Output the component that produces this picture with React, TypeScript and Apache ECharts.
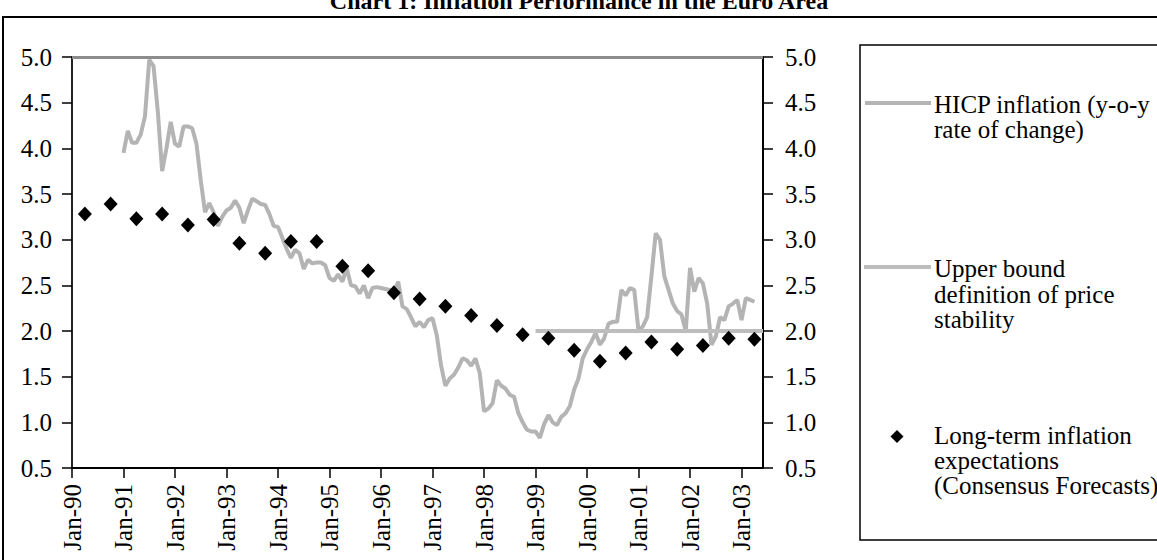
import React, { useEffect, useRef } from "react";
import * as echarts from "echarts";

const monthNames = ["Jan", "Feb", "Mar", "Apr", "May", "Jun", "Jul", "Aug", "Sep", "Oct", "Nov", "Dec"];
const yearLabels = ["90", "91", "92", "93", "94", "95", "96", "97", "98", "99", "00", "01", "02", "03"];
const lastMonthOfLastYear = 6; // axis runs to Jun-03

const categories: string[] = [];
yearLabels.forEach((y, yi) => {
  const n = yi === yearLabels.length - 1 ? lastMonthOfLastYear : 12;
  for (let m = 0; m < n; m++) categories.push(`${monthNames[m]}-${y}`);
});

// HICP inflation, y-o-y, monthly from Jan-91 to Apr-03
const hicpStart = "Jan-91";
const hicpValues = [
  3.95, 4.19, 4.06, 4.06, 4.15, 4.35, 4.97, 4.9, 4.4, 3.75, 4.0, 4.29,
  4.05, 4.02, 4.24, 4.24, 4.22, 4.05, 3.65, 3.3, 3.4, 3.3, 3.15, 3.25,
  3.32, 3.35, 3.43, 3.35, 3.18, 3.32, 3.45, 3.42, 3.39, 3.38, 3.28, 3.15,
  3.14, 3.02, 2.9, 2.8, 2.89, 2.85, 2.68, 2.78, 2.74, 2.75, 2.75, 2.72,
  2.58, 2.55, 2.62, 2.54, 2.69, 2.5, 2.49, 2.41, 2.5, 2.36, 2.47, 2.48,
  2.47, 2.46, 2.45, 2.43, 2.54, 2.27, 2.24, 2.15, 2.05, 2.1, 2.04, 2.12,
  2.14, 1.95, 1.62, 1.4, 1.48, 1.52, 1.6, 1.7, 1.68, 1.62, 1.7, 1.54,
  1.12, 1.15, 1.21, 1.46, 1.4, 1.37, 1.3, 1.28, 1.1, 1.0, 0.92, 0.9,
  0.9, 0.83, 0.98, 1.08, 1.0, 0.97, 1.06, 1.1, 1.18, 1.36, 1.48, 1.7,
  1.8, 1.88, 1.98, 1.85, 1.92, 2.08, 2.1, 2.1, 2.45, 2.39, 2.47, 2.45,
  2.0, 2.05, 2.15, 2.6, 3.07, 3.0, 2.6, 2.45, 2.3, 2.22, 2.18, 2.0,
  2.69, 2.43, 2.58, 2.52, 2.3, 1.85, 1.94, 2.15, 2.12, 2.27, 2.3, 2.34,
  2.12, 2.36, 2.34, 2.32,
];

// Upper bound of price stability definition
const upperBoundDates = ["Jan-99", "Jun-03"];
const upperBoundValue = 2.0;

// Long-term inflation expectations (Consensus Forecasts), April & October surveys
const consensusDates = [
  "Apr-90", "Oct-90", "Apr-91", "Oct-91", "Apr-92", "Oct-92", "Apr-93", "Oct-93", "Apr-94", "Oct-94",
  "Apr-95", "Oct-95", "Apr-96", "Oct-96", "Apr-97", "Oct-97", "Apr-98", "Oct-98", "Apr-99", "Oct-99",
  "Apr-00", "Oct-00", "Apr-01", "Oct-01", "Apr-02", "Oct-02", "Apr-03",
];
const consensusValues = [
  3.28, 3.39, 3.23, 3.28, 3.16, 3.22, 2.96, 2.85, 2.98, 2.98,
  2.71, 2.66, 2.42, 2.35, 2.27, 2.17, 2.06, 1.96, 1.92, 1.79,
  1.67, 1.76, 1.88, 1.8, 1.84, 1.92, 1.91,
];

const yMin = 0.5;
const yMax = 5.0;
const yStep = 0.5;

const seriesNames = {
  hicp: "HICP inflation (y-o-y rate of change)",
  bound: "Upper bound definition of price stability",
  cons: "Long-term inflation expectations (Consensus Forecasts)",
};

const FONT = "'Liberation Serif', 'Times New Roman', serif";
const GRAY = "#b4b4b4";

export default function App() {
  const ref = useRef<HTMLDivElement>(null);

  useEffect(() => {
    document.body.style.margin = "0";
    if (!ref.current) return;
    const chart = echarts.init(ref.current, undefined, { renderer: "svg" });

    const startIdx = categories.indexOf(hicpStart);
    const hicpData = categories.map((_, i) => {
      const k = i - startIdx;
      return k >= 0 && k < hicpValues.length ? hicpValues[k] : null;
    });
    const boundData = upperBoundDates.map((d) => [d, upperBoundValue]);
    const consData = consensusDates.map((d, i) => [d, consensusValues[i]]);

    const yAxisCommon = {
      type: "value",
      min: yMin,
      max: yMax,
      interval: yStep,
      splitLine: { show: false },
      axisTick: { show: true, inside: false, length: 10, lineStyle: { color: "#000", width: 1.5 } },
      axisLabel: {
        color: "#000",
        fontFamily: FONT,
        fontSize: 25,
        margin: 20,
        formatter: (v: number) => v.toFixed(1),
      },
    };

    chart.setOption({
      animation: false,
      backgroundColor: "#fff",
      grid: { left: 72, right: 394, top: 57, bottom: 92, containLabel: false },
      xAxis: {
        type: "category",
        data: categories,
        boundaryGap: false,
        axisLine: { show: true, lineStyle: { color: "#000", width: 2 } },
        axisTick: { show: true, interval: 11, length: 10, lineStyle: { color: "#000", width: 1.5 } },
        axisLabel: {
          interval: 11,
          rotate: 90,
          color: "#000",
          fontFamily: FONT,
          fontSize: 25,
          margin: 16,
        },
        splitLine: { show: false },
      },
      yAxis: [
        {
          ...yAxisCommon,
          position: "left",
          axisLine: { show: true, lineStyle: { color: "#222", width: 2 } },
        },
        {
          ...yAxisCommon,
          position: "right",
          axisLine: { show: true, lineStyle: { color: "#000", width: 2 } },
          axisLabel: { ...yAxisCommon.axisLabel, margin: 22 },
        },
      ],
      series: [
        {
          name: seriesNames.hicp,
          type: "line",
          data: hicpData,
          showSymbol: false,
          symbol: "none",
          lineStyle: { color: GRAY, width: 4 },
          z: 2,
          markLine: {
            silent: true,
            symbol: "none",
            label: { show: false },
            lineStyle: { color: "#8c8c8c", width: 3, type: "solid" },
            data: [{ yAxis: yMax }],
          },
        },
        {
          name: seriesNames.bound,
          type: "line",
          data: boundData,
          showSymbol: false,
          symbol: "none",
          lineStyle: { color: "#bdbdbd", width: 4 },
          z: 2,
        },
        {
          name: seriesNames.cons,
          type: "scatter",
          data: consData,
          symbol: "diamond",
          symbolSize: [14, 15],
          itemStyle: { color: "#000", opacity: 1 },
          z: 3,
        },
      ],
      graphic: [
        {
          type: "text",
          x: 579,
          y: 13,
          style: {
            text: "Chart 1: Inflation Performance in the Euro Area",
            font: `bold 24px ${FONT}`,
            fill: "#000",
            textAlign: "center",
            textVerticalAlign: "bottom",
          },
        },
        {
          type: "rect",
          shape: { x: 3, y: 17, width: 1200, height: 600 },
          style: { fill: "none", stroke: "#000", lineWidth: 2 },
          silent: true,
        },
        {
          type: "rect",
          shape: { x: 860, y: 45, width: 400, height: 495 },
          style: { fill: "none", stroke: "#000", lineWidth: 1.5 },
          silent: true,
        },
        {
          type: "line",
          shape: { x1: 865, y1: 103, x2: 931, y2: 103 },
          style: { stroke: GRAY, lineWidth: 4 },
        },
        {
          type: "text",
          x: 934,
          y: 91.5,
          style: {
            text: "HICP inflation (y-o-y\nrate of change)",
            font: `25px ${FONT}`,
            lineHeight: 25,
            fill: "#000",
            textVerticalAlign: "top",
          },
        },
        {
          type: "line",
          shape: { x1: 864, y1: 267, x2: 931, y2: 267 },
          style: { stroke: "#bdbdbd", lineWidth: 4 },
        },
        {
          type: "text",
          x: 934,
          y: 256,
          style: {
            text: "Upper bound\ndefinition of price\nstability",
            font: `25px ${FONT}`,
            lineHeight: 25.5,
            fill: "#000",
            textVerticalAlign: "top",
          },
        },
        {
          type: "polygon",
          shape: { points: [[897, 430], [903.5, 436.5], [897, 443], [890.5, 436.5]] },
          style: { fill: "#000" },
        },
        {
          type: "text",
          x: 934,
          y: 422.5,
          style: {
            text: "Long-term inflation\nexpectations\n(Consensus Forecasts)",
            font: `25px ${FONT}`,
            lineHeight: 25,
            fill: "#000",
            textVerticalAlign: "top",
          },
        },
      ],
    });

    return () => chart.dispose();
  }, []);

  return <div ref={ref} style={{ width: 1157, height: 560 }} />;
}
